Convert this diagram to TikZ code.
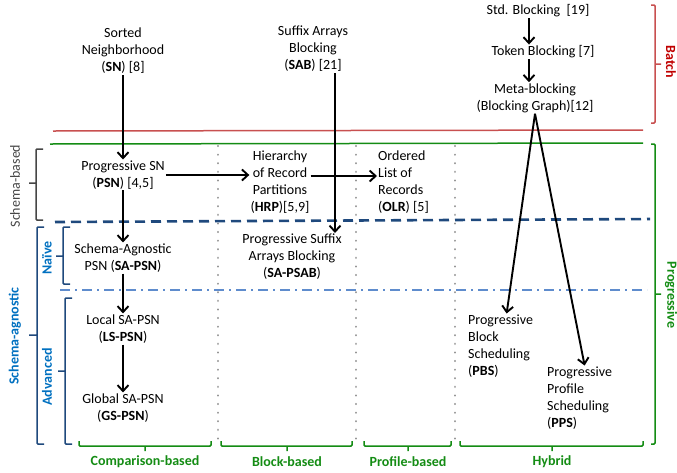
\documentclass[tikz,border=0pt]{standalone}
\usepackage{fontspec}
\setmainfont{Carlito}
\usetikzlibrary{arrows.meta}
\definecolor{batchred}{RGB}{192,0,0}
\definecolor{redline}{RGB}{200,80,80}
\definecolor{progreen}{RGB}{20,140,20}
\definecolor{darkblue}{RGB}{31,73,125}
\definecolor{lightblue}{RGB}{95,140,205}
\definecolor{labelblue}{RGB}{0,112,192}
\definecolor{dotgray}{RGB}{150,150,150}
\definecolor{bracketgray}{RGB}{70,70,70}
\begin{document}
\begin{tikzpicture}[x=1pt,y=-1pt,
    every node/.style={font=\fontsize{14}{17}\selectfont, inner sep=1pt},
    method/.style={align=center},
    methodl/.style={align=left, anchor=west},
    arr/.style={-{Straight Barb[length=6pt,width=11pt]}, line width=1.9pt},
    brk/.style={line width=1.5pt, rounded corners=1pt},
    catlabel/.style={font=\fontsize{14}{17}\selectfont\bfseries},
    sep/.style={dotgray, line width=2.2pt, dash pattern=on 0.1pt off 8.5pt, line cap=round}]
  \useasboundingbox (0,0) rectangle (677,472);
  % separators
  \foreach \x in {218,356,455}
    \draw[sep] (\x,146) -- (\x,446);
  \draw[redline, line width=1.5pt] (53,131) -- (643,130);
  \draw[progreen, line width=1.5pt] (50,144) -- (643,143);
  \draw[darkblue, line width=2.6pt, dash pattern=on 10pt off 6pt] (55,222) -- (650,219);
  \draw[lightblue, line width=2.2pt, dash pattern=on 10pt off 5pt on 2pt off 5pt] (60,290) -- (647,290);
  % methods
  \node[method] (sn) at (123,51) {Sorted\\Neighborhood\\(\textbf{SN}) [8]};
  \node[method] (sab) at (313,49) {Suffix Arrays\\Blocking\\(\textbf{SAB}) [21]};
  \node (std) at (538,11) {Std. Blocking~~[19]};
  \node (token) at (543,52) {Token Blocking [7]};
  \node[method] (meta) at (535,98) {Meta-blocking\\(Blocking Graph)[12]};
  \node[method] (psn) at (123,175) {Progressive SN\\(\textbf{PSN}) [4,5]};
  \node[method] (hrp) at (280,182) {Hierarchy\\of Record\\Partitions\\(\textbf{HRP})[5,9]};
  \node[methodl] (olr) at (377,182) {Ordered\\List of\\Records\\(\textbf{OLR}) [5]};
  \node[method] (sapsn) at (123,258) {Schema-Agnostic\\PSN (\textbf{SA-PSN})};
  \node[method] (sapsab) at (292,257) {Progressive Suffix\\Arrays Blocking\\(\textbf{SA-PSAB})};
  \node[method] (lspsn) at (123,329) {Local SA-PSN\\(\textbf{LS-PSN})};
  \node[method] (gspsn) at (123,408) {Global SA-PSN\\(\textbf{GS-PSN})};
  \node[methodl] (pbs) at (467,346) {Progressive\\Block\\Scheduling\\(\textbf{PBS})};
  \node[methodl] (pps) at (546,398) {Progressive\\Profile\\Scheduling\\(\textbf{PPS})};
  % arrows
  \draw[arr] (sn.south) -- (sn.south |- psn.north);
  \draw[arr] ([xshift=22pt]sab.south) -- ([xshift=22pt]sab.south |- sapsab.north);
  \draw[arr] ([xshift=-9pt]std.south) -- ([xshift=-14pt]token.north);
  \draw[arr] ([xshift=-14pt]token.south) -- ([xshift=-6pt]meta.north);
  \draw[arr] (meta.south) -- ([xshift=6pt]pbs.north);
  \draw[arr] (meta.south) -- ([xshift=5pt]pps.north);
  \draw[arr] (psn.east) -- (psn.east -| hrp.west);
  \draw[arr] ([yshift=6pt]hrp.east) -- ([yshift=6pt]olr.west);
  \draw[arr] (psn.south) -- (psn.south |- sapsn.north);
  \draw[arr] (sapsn.south) -- (sapsn.south |- lspsn.north);
  \draw[arr] (lspsn.south) -- (gspsn.north);
  % brackets
  \draw[brk, bracketgray] (43,149) -- (36,149) -- (36,220) -- (43,220) (36,183) -- (29,183);
  \draw[brk, darkblue] (44,227) -- (37,227) -- (37,444) -- (44,444) (37,335) -- (29,335);
  \draw[brk, darkblue] (70,227) -- (63,227) -- (63,284) -- (70,284) (63,256) -- (56,256);
  \draw[brk, darkblue] (72,298) -- (65,298) -- (65,444) -- (72,444) (65,371) -- (58,371);
  \draw[brk, redline] (651,5) -- (655,5) -- (655,123) -- (651,123) (655,64) -- (661,64);
  \draw[brk, progreen] (651,144) -- (655,144) -- (655,444) -- (651,444) (655,294) -- (661,294);
  \draw[brk, progreen] (79,441) -- (79,446) -- (211,446) -- (211,441) (145,446) -- (145,451);
  \draw[brk, progreen] (221,441) -- (221,446) -- (352,446) -- (352,441) (287,446) -- (287,451);
  \draw[brk, progreen] (364,441) -- (364,446) -- (451,446) -- (451,441) (408,446) -- (408,451);
  \draw[brk, progreen] (460,441) -- (460,446) -- (643,446) -- (643,441) (552,446) -- (552,451);
  % labels
  \node[catlabel, progreen] (cmp) at (145,462) {Comparison-based};
  \node[catlabel, progreen] (blk) at (287,462) {Block-based};
  \node[catlabel, progreen] (prf) at (408,462) {Profile-based};
  \node[catlabel, progreen] (hyb) at (552,462) {Hybrid};
  \node[catlabel, batchred, rotate=-90] (batch) at (671,62) {Batch};
  \node[catlabel, progreen, rotate=-90] (prog) at (671,295) {Progressive};
  \node[bracketgray, rotate=90] (schb) at (15,186) {Schema-based};
  \node[catlabel, labelblue, rotate=90] (scha) at (15,336) {Schema-agnostic};
  \node[catlabel, labelblue, rotate=90] (naive) at (47,258) {Naïve};
  \node[catlabel, labelblue, rotate=90] (adv) at (47,377) {Advanced};
\end{tikzpicture}
\end{document}
